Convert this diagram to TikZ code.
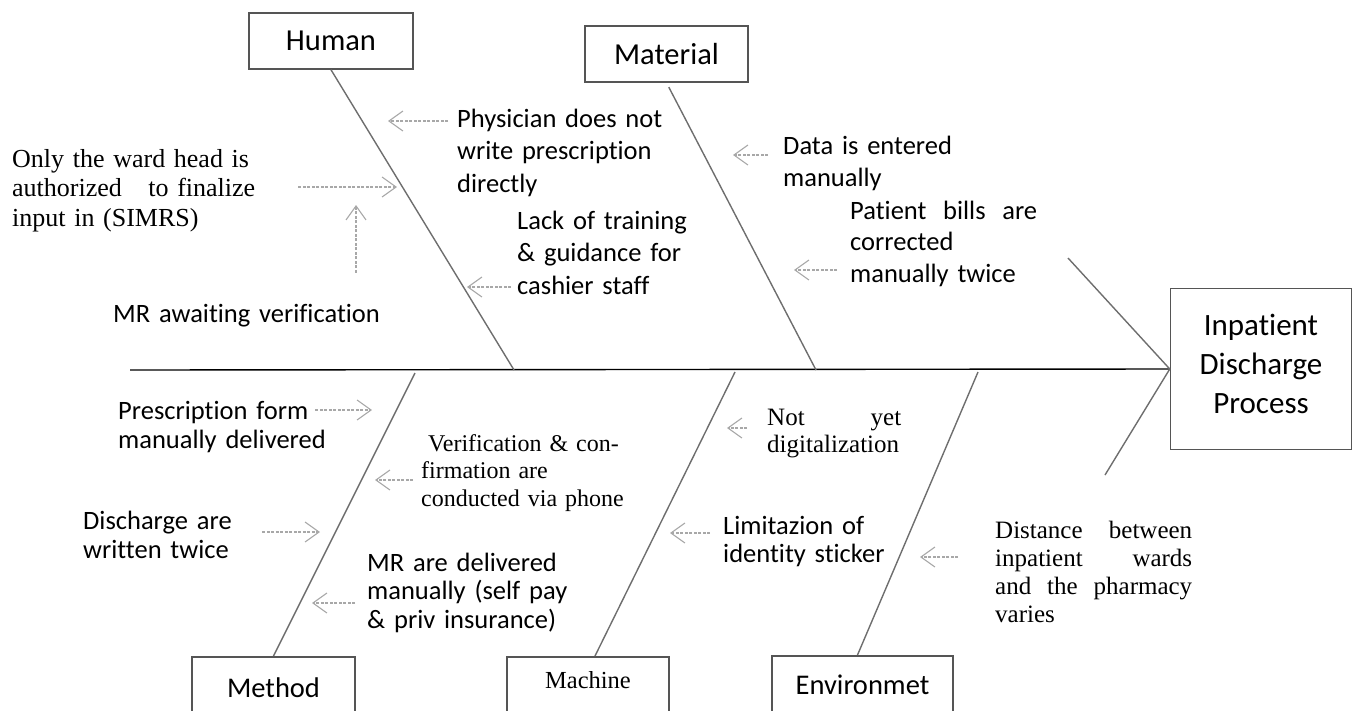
\documentclass[tikz,border=0pt]{standalone}
\usepackage{fontspec}
\setmainfont{Carlito}[Ligatures=NoCommon, Contextuals=NoAlternate]
\newfontfamily\timesfont{Liberation Serif}
\usetikzlibrary{arrows.meta}
\definecolor{bonegray}{HTML}{6E6E6E}
\definecolor{arrowgray}{HTML}{A8A8A8}
\definecolor{boxgray}{HTML}{555555}

\begin{document}
\begin{tikzpicture}[x=1pt, y=-1pt,
  catbox/.style={draw=boxgray, line width=1.5pt, minimum width=164pt, minimum height=56pt, inner sep=0pt, font=\fontsize{30.5}{36}\selectfont},
  catlow/.style={catbox, minimum height=70pt, anchor=north, text height=20pt, text depth=9.2pt, font=\fontsize{28.5}{34}\selectfont},
  causetext/.style={anchor=base west, inner sep=0pt, align=left, font=\fontsize{26.5}{32.5}\selectfont},
  tight/.style={font=\fontsize{26.5}{29.5}\selectfont},
  serifcause/.style={causetext, font=\timesfont\fontsize{25}{28}\selectfont},
  bone/.style={draw=bonegray, line width=1.4pt},
  why/.style={draw=arrowgray, line width=1.1pt, dash pattern=on 3pt off 1.5pt, -{Straight Barb[length=14pt, width=20pt]}}]

\useasboundingbox (0,0) rectangle (1352,710);
\clip (0,0) rectangle (1352,710);

\node[catbox] (human) at (331,41) {Human};
\node[catbox, minimum width=163pt] (material) at (666.5,54) {Material};
\node[catlow, minimum width=163pt] (method) at (273.5,656) {Method};
\node[catlow, minimum width=162pt, text height=17pt, text depth=23pt, font=\timesfont\fontsize{24.5}{29}\selectfont] (machine) at (588,656) {Machine\hspace{24pt}};
\node[catlow, minimum width=181pt, text depth=13.2pt] (environmet) at (862.5,655) {Environmet};
\node[catbox, minimum width=181pt, minimum height=161pt, align=center, text depth=11pt, font=\fontsize{31}{39}\selectfont] (effect) at (1261,369) {Inpatient\\Discharge\\Process};

\coordinate (tail) at (130,370);
\coordinate (hs) at (514,370);
\coordinate (ms) at (816,370);
\coordinate (mes) at (415,373);
\coordinate (mas) at (735,372);
\coordinate (es) at (978,372);
\coordinate (upfin) at (1068,258);
\coordinate (lowfin) at (1105,475);

\draw[line width=1.4pt] (tail) -- (effect.west);
\draw[bone] (human.south) -- (hs);
\draw[bone, shorten <=5pt] (material.south) -- (ms);
\draw[bone] (method.north) -- (mes);
\draw[bone] ([xshift=7pt]machine.north) -- (mas);
\draw[bone] ([xshift=-5pt]environmet.north) -- (es);
\draw[bone] (upfin) -- (effect.west);
\draw[bone] (effect.west) -- (lowfin);

\node[causetext, text width=215pt] (phys) at (457,127) {Physician does not\\write prescription\\directly};
\node[causetext, text width=170pt] (lack) at (517,229) {Lack of training\\\& guidance for\\cashier staff};
\node[causetext, text width=175pt] (data) at (783,154) {Data is entered\\manually};
\node[causetext, text width=187pt, font=\fontsize{26.5}{31.5}\selectfont] (bills) at (850,219) {\makebox[187pt]{Patient\hfill bills\hfill are}\\corrected\\manually twice};
\node[causetext, text width=270pt] (mrwait) at (113,322) {MR awaiting verification};
\node[serifcause, text width=243pt, font=\timesfont\fontsize{26}{29.5}\selectfont] (ward) at (12,167) {Only the ward head is\\\makebox[243pt]{authorized\hfill to finalize}\\input in (SIMRS)};

\node[causetext, tight, text width=210pt] (presc) at (118,419) {Prescription form\\manually delivered};
\node[serifcause, text width=220pt, font=\timesfont\fontsize{24}{27.5}\selectfont] (verif) at (421,451) {\hspace*{7pt}Verification \& con-\\firmation are\\conducted via phone};
\node[causetext, tight, text width=150pt] (disch) at (83,529) {Discharge are\\written twice};
\node[causetext, font=\fontsize{26.5}{28.5}\selectfont, text width=205pt] (mrdel) at (367,571) {MR are delivered\\manually (self pay\\\& priv insurance)};
\node[serifcause, text width=134pt, font=\timesfont\fontsize{25}{27}\selectfont] (notyet) at (767,425) {\makebox[134pt]{Not\hfill yet}\\digitalization};
\node[causetext, font=\fontsize{26.5}{28}\selectfont, text width=170pt] (limit) at (723,534) {Limitazion of\\identity sticker};
\node[serifcause, text width=197pt, font=\timesfont\fontsize{25}{28.3}\selectfont] (dist) at (995,538) {\makebox[197pt]{Distance\hfill between}\\\makebox[197pt]{inpatient\hfill wards}\\\makebox[197pt]{and\hfill the\hfill pharmacy}\\varies};

\coordinate (t1) at (388,121);
\coordinate (t2) at (397,187);
\coordinate (t3) at (356,205);
\coordinate (t4) at (467,287);
\coordinate (t5) at (733,155);
\coordinate (t6) at (794,270);
\coordinate (t7) at (372,410);
\coordinate (t8) at (375,480);
\coordinate (t9) at (320,532);
\coordinate (t10) at (312,603);
\coordinate (t11) at (727,428);
\coordinate (t12) at (670,533);
\coordinate (t13) at (920,557);

\draw[why, shorten <=9pt] (phys.west |- t1) -- (t1);
\draw[why, shorten <=43pt] (ward.east |- t2) -- (t2);
\draw[why, shorten <=31pt] (mrwait.north -| t3) -- (t3);
\draw[why, shorten <=6pt] (lack.west |- t4) -- (t4);
\draw[why, shorten <=15pt] (data.west |- t5) -- (t5);
\draw[why, shorten <=13pt] (bills.west |- t6) -- (t6);
\draw[why, shorten <=-13pt] (presc.east |- t7) -- (t7);
\draw[why, shorten <=8pt] (verif.west |- t8) -- (t8);
\draw[why, shorten <=29pt] (disch.east |- t9) -- (t9);
\draw[why, shorten <=12pt] (mrdel.west |- t10) -- (t10);
\draw[why, shorten <=20pt] (notyet.west |- t11) -- (t11);
\draw[why, shorten <=13pt] (limit.west |- t12) -- (t12);
\draw[why, shorten <=37pt] (dist.west |- t13) -- (t13);
\end{tikzpicture}
\end{document}
